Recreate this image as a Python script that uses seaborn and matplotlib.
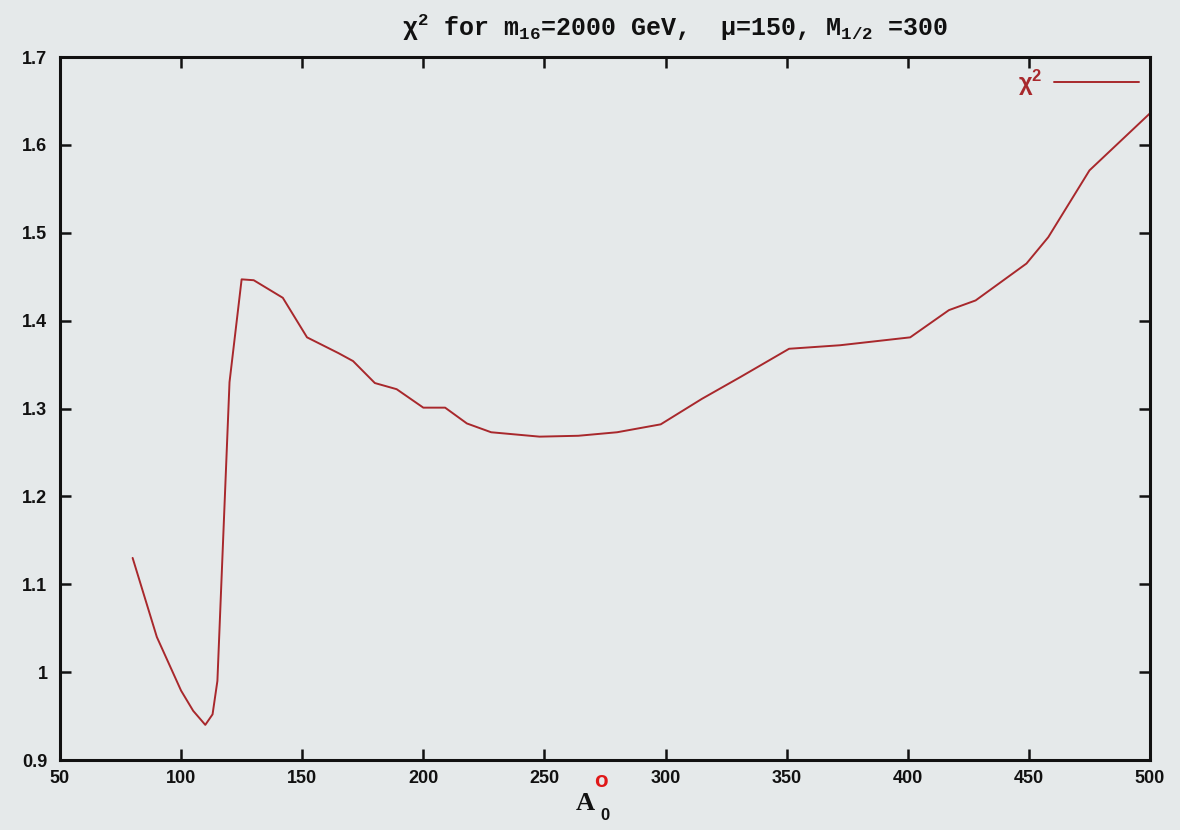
import matplotlib
matplotlib.use("Agg")
import matplotlib.pyplot as plt
import seaborn as sns
import pandas as pd

# chi^2 scan as a function of A0
a0 = [80, 90, 100, 105, 110, 113, 115, 120, 125, 130, 142, 152, 165, 171,
      180, 189, 200, 209, 218, 228, 248, 264, 280, 298, 315, 331, 351, 372,
      401, 417, 428, 449, 458, 475, 500]
chi2 = [1.130, 1.040, 0.979, 0.956, 0.940, 0.952, 0.990, 1.330, 1.447, 1.446,
        1.426, 1.381, 1.363, 1.354, 1.329, 1.322, 1.301, 1.301, 1.283, 1.273,
        1.268, 1.269, 1.273, 1.282, 1.311, 1.336, 1.368, 1.372, 1.381, 1.412,
        1.423, 1.465, 1.495, 1.571, 1.636]

x_ticks = [50, 100, 150, 200, 250, 300, 350, 400, 450, 500]
y_ticks = [0.9, 1.0, 1.1, 1.2, 1.3, 1.4, 1.5, 1.6, 1.7]
y_tick_labels = ["0.9", "1", "1.1", "1.2", "1.3", "1.4", "1.5", "1.6", "1.7"]

title = "χ$^2$ for m$_{16}$=2000 GeV,  μ=150, M$_{1/2}$ =300"
series_label = "χ$^2$"

bg = "#e5e9ea"
line_color = "#a8282c"

sns.set_style("ticks")
plt.rcParams["font.family"] = ["Liberation Sans", "DejaVu Sans"]
plt.rcParams["mathtext.default"] = "regular"

df = pd.DataFrame({"A0": a0, "chi2": chi2})

fig = plt.figure(figsize=(11.8, 8.3), dpi=100, facecolor=bg)
ax = fig.add_axes([0.0508, 0.0843, 0.9238, 0.847])
ax.set_facecolor(bg)

sns.lineplot(data=df, x="A0", y="chi2", ax=ax, color=line_color,
             linewidth=1.4, label=series_label, sort=False)

ax.set_xlim(50, 500)
ax.set_ylim(0.9, 1.7)
ax.set_xticks(x_ticks)
ax.set_xticklabels([str(v) for v in x_ticks])
ax.set_yticks(y_ticks)
ax.set_yticklabels(y_tick_labels)

for side in ax.spines.values():
    side.set_linewidth(2.2)
    side.set_color("#111111")

ax.tick_params(axis="both", which="major", direction="in", length=8, width=1.8,
               top=True, right=True, labelsize=13, colors="#111111", pad=7)
for lbl in ax.get_xticklabels() + ax.get_yticklabels():
    lbl.set_fontweight("bold")
ax.tick_params(axis="y", pad=9)

ax.set_xlabel("")
ax.set_ylabel("")

# axis label A0 with the red marker above
fig.text(585 / 1180, 1 - 803 / 830, "A", fontsize=19, fontweight="bold",
         family="Liberation Serif", ha="center", va="center", color="#111111")
fig.text(605 / 1180, 1 - 815 / 830, "0", fontsize=12, fontweight="bold",
         ha="center", va="center", color="#111111")
fig.text(601 / 1180, 1 - 781 / 830, "o", fontsize=16, fontweight="bold",
         ha="center", va="center", color="#e01818")

# title
fig.text(675 / 1180, 1 - 28 / 830, title, fontsize=18, fontweight="bold",
         family=["Liberation Mono", "DejaVu Sans Mono"], ha="center",
         va="center", color="#111111")

leg = ax.legend(loc="upper right", frameon=False, markerfirst=False,
                fontsize=17, handlelength=3.6, borderaxespad=0.05,
                handletextpad=0.5, labelcolor=line_color)
for t in leg.get_texts():
    t.set_fontweight("bold")

fig.savefig("out.png", dpi=100, facecolor=bg)
